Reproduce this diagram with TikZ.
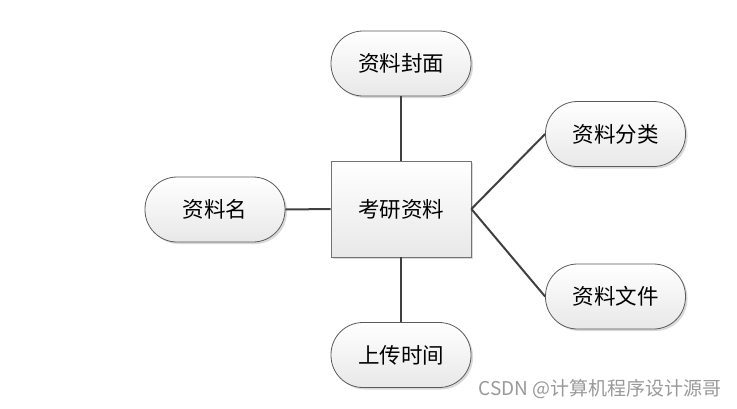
\documentclass[tikz,border=0pt]{standalone}
\usepackage{fontspec}
\newfontfamily\cjk{Noto Sans CJK SC}
\usetikzlibrary{shadows}
\definecolor{edgecol}{RGB}{64,64,64}
\definecolor{bordercol}{RGB}{90,90,90}
\definecolor{fillbot}{RGB}{232,232,232}
\tikzset{
  attr/.style={draw=bordercol, line width=0.8pt, rounded corners=32pt, minimum width=140pt, minimum height=65pt,
    top color=white, bottom color=fillbot, inner sep=0pt,
    drop shadow={shadow xshift=2pt, shadow yshift=-2pt, fill=black!15, opacity=1},
    font=\cjk\fontsize{21.5}{25}\selectfont},
  entity/.style={draw=black!55, line width=0.8pt, minimum width=140pt, minimum height=96pt,
    top color=white, bottom color=fillbot, inner sep=0pt,
    drop shadow={shadow xshift=2pt, shadow yshift=-2pt, fill=black!15, opacity=1},
    font=\cjk\fontsize{21.5}{25}\selectfont},
  link/.style={draw=edgecol, line width=2pt}
}
\begin{document}
\begin{tikzpicture}[x=1pt,y=-1pt]
\useasboundingbox (0,0) rectangle (737,408);
\node[entity] (c) at (401,209) {考研资料};
\node[attr] (top) at (401,63.5) {资料封面};
\node[attr] (left) at (215,209.5) {资料名};
\node[attr] (rt) at (615.5,134) {资料分类};
\node[attr] (rb) at (615.5,296.5) {资料文件};
\node[attr] (bot) at (401,355) {上传时间};
\draw[link] (top.south) -- (c.north);
\draw[link] (left.east) -- (c.west);
\draw[link] (c.east) -- (rt.west);
\draw[link] (c.east) -- (rb.west);
\draw[link] (c.south) -- (bot.north);
\node[anchor=base east, text=black!40, font=\cjk\fontsize{19}{22}\selectfont, inner sep=0pt] (wm) at (722,395) {CSDN @计算机程序设计源哥};
\end{tikzpicture}
\end{document}
